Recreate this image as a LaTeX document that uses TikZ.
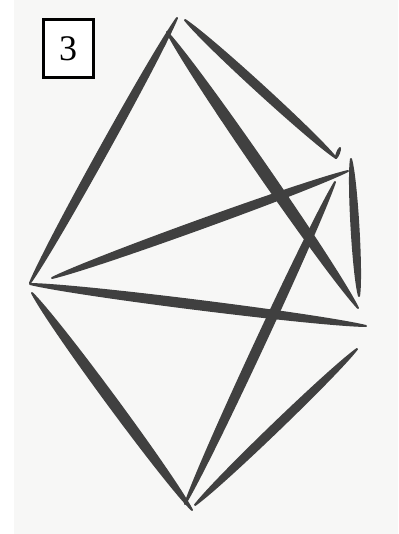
\documentclass[tikz,border=0pt]{standalone}
\usepackage{tikz}
\usepackage{fontspec}
\usetikzlibrary{calc}

\setmainfont{Liberation Serif}

\definecolor{paper}{HTML}{F7F7F6}
\definecolor{ink}{HTML}{404040}

\tikzset{
    ink/.style={fill=ink, draw=ink, line width=2pt, line cap=round, line join=round},
    numbox/.style={draw=black, line width=3pt, fill=white, minimum width=50pt, minimum height=58pt, inner sep=0pt, font=\fontsize{36}{36}\selectfont}
}

% tapered brush stroke from #1 to #2, half width about 0.75*#3
\newcommand{\brush}[3]{%
    \filldraw[ink] (#1) .. controls ($(#1)!0.15!(#2)!#3!90:(#2)$) and ($(#1)!0.85!(#2)!#3!90:(#2)$) .. (#2)
        .. controls ($(#1)!0.85!(#2)!#3!-90:(#2)$) and ($(#1)!0.15!(#2)!#3!-90:(#2)$) .. (#1) -- cycle;}

\begin{document}
\begin{tikzpicture}[x=1pt, y=-1pt]
                % Paper
                \fill[white] (0,0) rectangle (398,534);
                \fill[paper] (14,0) rectangle (398,534);
                \useasboundingbox (0,0) rectangle (398,534);

                % Label
                \node[numbox] (num) at (68,49) {3};

                % Stroke ends
                \coordinate (lt) at (30,283);   \coordinate (top) at (177,18);
                \coordinate (tk) at (167,32);   \coordinate (xa) at (358,308);
                \coordinate (tb) at (185,20);   \coordinate (ra) at (336,158);
                \coordinate (rh) at (340,148);
                \coordinate (rv) at (351,159);  \coordinate (rw) at (359,296);
                \coordinate (rs) at (348,171);  \coordinate (ls) at (52,278);
                \coordinate (lm) at (30,284);   \coordinate (rx) at (366,326);
                \coordinate (rc) at (335,182);  \coordinate (bt) at (185,504);
                \coordinate (lb) at (32,293);   \coordinate (bb) at (192,510);
                \coordinate (bc) at (195,505);  \coordinate (rb) at (357,349);

                % Strokes
                \brush{lt}{top}{5.2pt}
                \brush{tk}{xa}{7pt}
                \brush{tb}{ra}{5pt}
                \brush{ra}{rh}{1.2pt}
                \brush{rv}{rw}{4.6pt}
                \brush{rs}{ls}{5.4pt}
                \brush{lm}{rx}{5.6pt}
                \brush{rc}{bt}{5.6pt}
                \brush{lb}{bb}{6.2pt}
                \brush{bc}{rb}{5pt}
            \end{tikzpicture}
\end{document}
